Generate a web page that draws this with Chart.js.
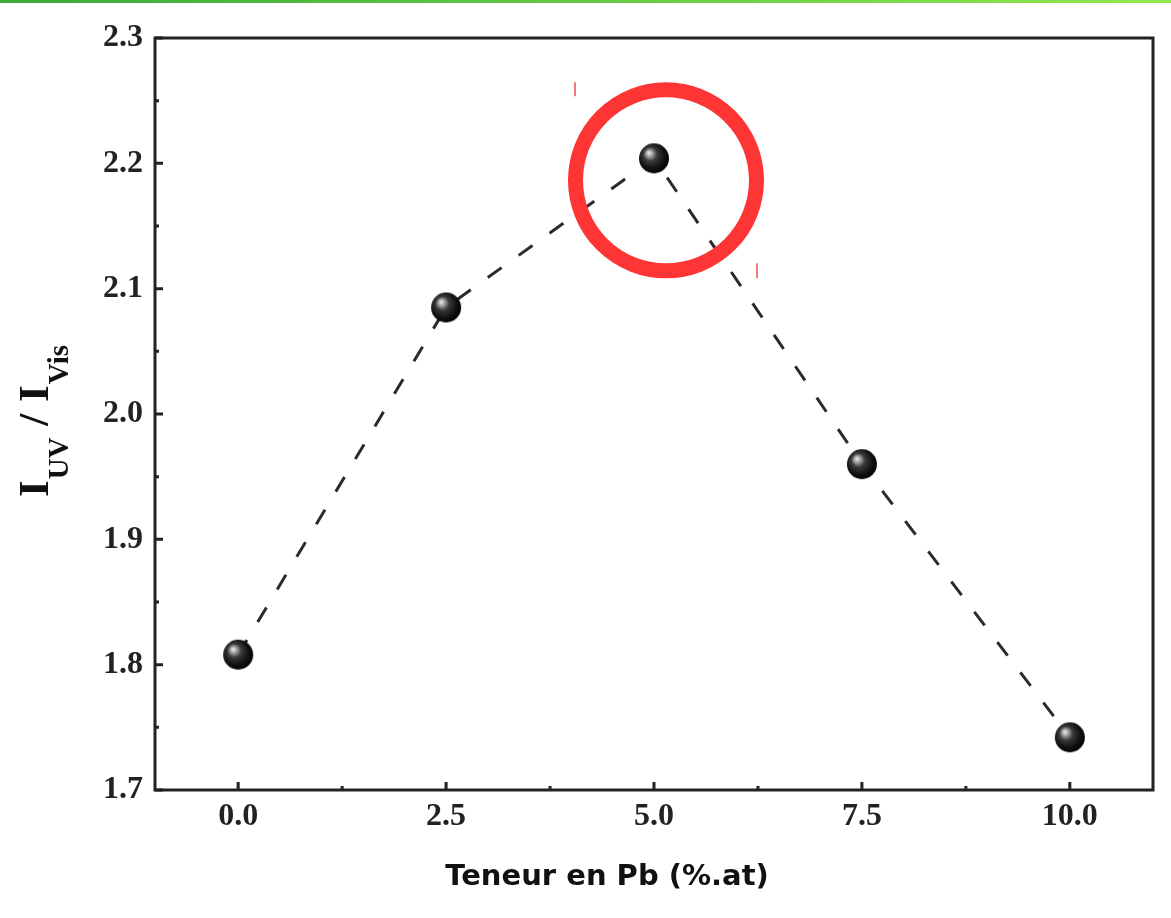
<!DOCTYPE html>
<html>
<head>
<meta charset="utf-8">
<script src="https://cdn.jsdelivr.net/npm/chart.js@4.4.1/dist/chart.umd.min.js"></script>
<style>
  html, body { margin: 0; padding: 0; background: #ffffff; }
  #wrap { position: absolute; left: 0; top: 0; width: 1171px; height: 918px; }
  #topbar { position: absolute; left: 0; top: 0; width: 1171px; height: 3px;
            background: linear-gradient(to right, #3aaa3a, #90e850); }
</style>
</head>
<body>
<div id="wrap"><canvas id="c" width="1171" height="918"></canvas></div>
<div id="topbar"></div>
<script>
// Pb content (%.at) and the UV / visible emission intensity ratio
const leadContent = [0.0, 2.5, 5.0, 7.5, 10.0];
const ratioUvVis = [1.808, 2.085, 2.204, 1.960, 1.742];

// Axis ticks
const xTickValues = [0.0, 2.5, 5.0, 7.5, 10.0];
const xMinorTicks = [1.25, 3.75, 6.25, 8.75];
const yTickValues = [1.7, 1.8, 1.9, 2.0, 2.1, 2.2, 2.3];
const yMinorTicks = [1.75, 1.85, 1.95, 2.05, 2.15, 2.25];

// Index of the highlighted (maximum) point
const highlightIndex = 2;

const AXIS_COLOR = '#222222';
const TICK_FONT = { family: 'Liberation Serif', size: 32, weight: 'bold' };

// Glossy black sphere used as the point marker
function makeSphere(r) {
  const size = r * 2 + 2;
  const cv = document.createElement('canvas');
  cv.width = size; cv.height = size;
  const g = cv.getContext('2d');
  const c = size / 2;
  const grad = g.createRadialGradient(c - r * 0.35, c - r * 0.38, 0, c - r * 0.1, c - r * 0.1, r * 1.15);
  grad.addColorStop(0.0, '#f0f0f0');
  grad.addColorStop(0.16, '#b0b0b0');
  grad.addColorStop(0.4, '#3a3a3a');
  grad.addColorStop(0.72, '#141414');
  grad.addColorStop(1.0, '#000000');
  g.fillStyle = grad;
  g.beginPath();
  g.arc(c, c, r, 0, Math.PI * 2);
  g.fill();
  return cv;
}
const sphere = makeSphere(15);

// Frame, inward ticks, axis titles and the highlight ring
const decorPlugin = {
  id: 'decor',
  afterDraw(chart) {
    const ctx = chart.ctx;
    const a = chart.chartArea;
    const xs = chart.scales.x, ys = chart.scales.y;
    ctx.save();

    // frame
    ctx.strokeStyle = AXIS_COLOR;
    ctx.lineWidth = 3;
    ctx.lineJoin = 'miter';
    ctx.strokeRect(a.left, a.top, a.right - a.left, a.bottom - a.top);

    // inward ticks on bottom and left axes
    ctx.lineWidth = 3;
    ctx.beginPath();
    xTickValues.forEach(v => {
      const px = xs.getPixelForValue(v);
      ctx.moveTo(px, a.bottom); ctx.lineTo(px, a.bottom - 8);
    });
    xMinorTicks.forEach(v => {
      const px = xs.getPixelForValue(v);
      ctx.moveTo(px, a.bottom); ctx.lineTo(px, a.bottom - 4);
    });
    yTickValues.forEach(v => {
      const py = ys.getPixelForValue(v);
      ctx.moveTo(a.left, py); ctx.lineTo(a.left + 8, py);
    });
    yMinorTicks.forEach(v => {
      const py = ys.getPixelForValue(v);
      ctx.moveTo(a.left, py); ctx.lineTo(a.left + 4, py);
    });
    ctx.stroke();

    // x axis title
    ctx.fillStyle = '#111111';
    ctx.font = 'bold 29px "DejaVu Sans"';
    ctx.textAlign = 'center';
    ctx.textBaseline = 'alphabetic';
    ctx.fillText('Teneur en Pb (%.at)', 607, 885);

    // y axis title with subscripts, rotated
    ctx.save();
    ctx.translate(48, 497);
    ctx.rotate(-Math.PI / 2);
    ctx.textAlign = 'left';
    const big = 'bold 43px "Liberation Serif"';
    const small = 'bold 29px "Liberation Serif"';
    let x = 0;
    const parts = [
      ['I', big, 0], ['UV', small, 20], [' / ', big, 0], ['I', big, 0], ['Vis', small, 20]
    ];
    parts.forEach(([t, f, dy]) => {
      ctx.font = f;
      ctx.fillText(t, x, dy);
      x += ctx.measureText(t).width + 1;
    });
    ctx.restore();

    // ring around the maximum
    const meta = chart.getDatasetMeta(0);
    const pt = meta.data[highlightIndex];
    const cx = pt.x + 12, cy = pt.y + 22;
    ctx.strokeStyle = '#fd3535';
    ctx.lineWidth = 15;
    ctx.beginPath();
    ctx.arc(cx, cy, 90.5, 0, Math.PI * 2);
    ctx.stroke();

    // small red marks beside the ring
    ctx.lineWidth = 1.5;
    ctx.strokeStyle = '#f05050';
    ctx.beginPath();
    ctx.moveTo(cx - 91, cy - 98); ctx.lineTo(cx - 91, cy - 84);
    ctx.moveTo(cx + 91, cy + 83); ctx.lineTo(cx + 91, cy + 98);
    ctx.stroke();

    ctx.restore();
  }
};

new Chart(document.getElementById('c'), {
  type: 'line',
  data: {
    datasets: [{
      data: leadContent.map((x, i) => ({ x: x, y: ratioUvVis[i] })),
      borderColor: '#2b2b2b',
      borderWidth: 3,
      borderDash: [17, 21],
      fill: false,
      tension: 0,
      pointStyle: sphere,
      pointRadius: 15,
      pointHoverRadius: 15
    }]
  },
  options: {
    responsive: false,
    animation: false,
    devicePixelRatio: 1,
    layout: { padding: { left: 0, right: 14, top: 38, bottom: 0 } },
    plugins: { legend: { display: false }, tooltip: { enabled: false } },
    scales: {
      x: {
        type: 'linear',
        min: -1, max: 11,
        afterBuildTicks: s => { s.ticks = xTickValues.map(v => ({ value: v })); },
        afterFit: s => { s.height = 128; s.paddingLeft = 0; s.paddingRight = 0; },
        grid: { display: false, drawTicks: false },
        border: { display: false },
        ticks: {
          padding: 8,
          color: AXIS_COLOR,
          font: TICK_FONT,
          maxRotation: 0,
          callback: v => Number(v).toFixed(1)
        }
      },
      y: {
        type: 'linear',
        min: 1.7, max: 2.3,
        afterBuildTicks: s => { s.ticks = yTickValues.map(v => ({ value: v })); },
        afterFit: s => { s.width = 155; s.paddingTop = 0; s.paddingBottom = 0; },
        grid: { display: false, drawTicks: false },
        border: { display: false },
        ticks: {
          padding: 12,
          color: AXIS_COLOR,
          font: TICK_FONT,
          callback: v => Number(v).toFixed(1)
        }
      }
    }
  },
  plugins: [decorPlugin]
});
</script>
</body>
</html>
